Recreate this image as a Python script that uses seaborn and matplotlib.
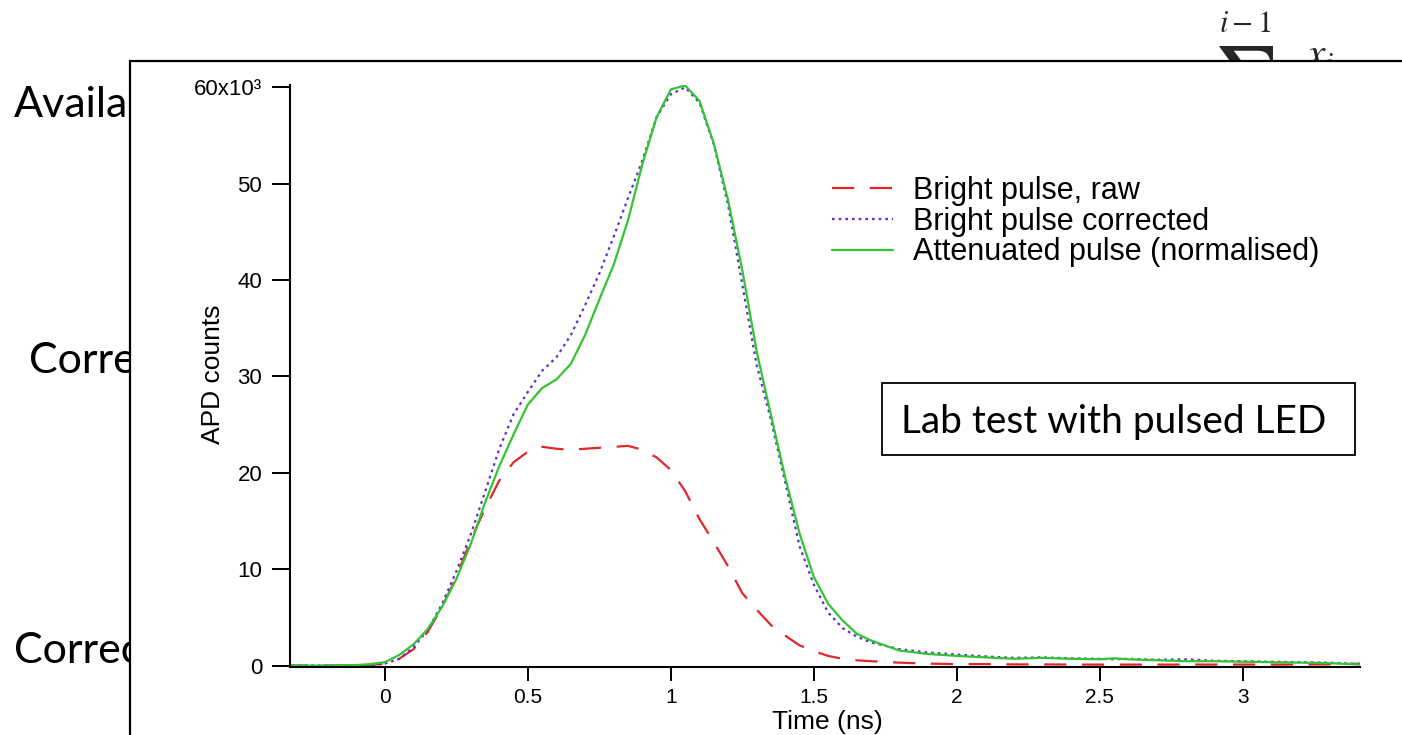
import matplotlib
matplotlib.use("Agg")
import matplotlib.pyplot as plt
import numpy as np
import pandas as pd
import seaborn as sns
from matplotlib.patches import Rectangle

# ---------------- data ----------------
time_ns = [-0.35, -0.2, -0.1, -0.05, 0.0, 0.05, 0.1, 0.15, 0.2, 0.25, 0.3, 0.35,
           0.4, 0.45, 0.5, 0.55, 0.6, 0.65, 0.7, 0.75, 0.8, 0.85, 0.9, 0.95,
           1.0, 1.05, 1.1, 1.15, 1.2, 1.25, 1.3, 1.35, 1.4, 1.45, 1.5, 1.55,
           1.6, 1.65, 1.7, 1.8, 1.9, 2.0, 2.1, 2.2, 2.3, 2.4, 2.5, 2.55, 2.6,
           2.7, 2.8, 2.9, 3.0, 3.1, 3.2, 3.3, 3.42]

bright_raw = [0, 0, 0, 50, 200, 700, 1700, 3500, 6100, 9200, 13000, 16300,
              19200, 21100, 22200, 22700, 22500, 22400, 22500, 22600, 22700, 22800, 22400, 21600,
              20300, 18100, 15200, 12800, 10300, 7500, 5800, 4200, 3100, 2100, 1500, 1000,
              700, 550, 450, 300, 200, 150, 150, 120, 120, 100, 100, 100, 100,
              100, 100, 100, 100, 100, 100, 120, 200]

bright_corrected = [0, 0, 0, 50, 200, 700, 1900, 3700, 6400, 9800, 13600, 18000,
                    22500, 26100, 28400, 30600, 32000, 34300, 37400, 40700, 44500, 48500, 52400, 56900,
                    59300, 60000, 58400, 54100, 47800, 39500, 31200, 25500, 19000, 12400, 8400, 5500,
                    3900, 3000, 2400, 1700, 1350, 1150, 950, 800, 850, 750, 700, 650, 700,
                    600, 650, 500, 450, 400, 350, 300, 150]

attenuated_norm = [0, 0, 50, 150, 350, 1100, 2200, 3800, 6100, 9000, 12600, 16900,
                   20700, 24000, 27100, 28800, 29700, 31300, 34300, 38000, 41600, 46200, 52000, 56900,
                   59800, 60200, 58600, 54200, 48300, 41000, 32600, 26000, 19500, 13700, 9200, 6400,
                   4700, 3300, 2600, 1550, 1200, 1000, 850, 700, 800, 700, 650, 750, 650,
                   550, 450, 450, 400, 350, 300, 250, 100]

series_names = ["Bright pulse, raw", "Bright pulse corrected", "Attenuated pulse (normalised)"]
series_colors = ["#e1262c", "#5e2fcf", "#33c433"]

y_ticks = [0, 10000, 20000, 30000, 40000, 50000, 60000]
y_tick_labels = ["0", "10", "20", "30", "40", "50", "60x10\u00b3"]
x_ticks = [0, 0.5, 1, 1.5, 2, 2.5, 3]
x_tick_labels = ["0", "0.5", "1", "1.5", "2", "2.5", "3"]

# ---------------- build long table ----------------
df = pd.DataFrame({
    "time": time_ns * 3,
    "counts": bright_raw + bright_corrected + attenuated_norm,
    "series": [series_names[0]] * len(time_ns) + [series_names[1]] * len(time_ns)
              + [series_names[2]] * len(time_ns),
})

sns.set_style("ticks")
plt.rcParams["font.family"] = ["Liberation Sans", "DejaVu Sans"]
plt.rcParams["mathtext.fontset"] = "stix"

W, H = 1402, 735
fig = plt.figure(figsize=(W / 100, H / 100), dpi=100)
fig.patch.set_facecolor("white")

def fx(px):
    return px / W

def fy(py):
    return 1 - py / H

# slide text behind the chart frame
for txt, x, y in [("Availa", 14, 117), ("Corre", 29, 373), ("Correc", 14, 663)]:
    fig.text(fx(x), fy(y), txt, family="Lato", fontsize=31, color="black",
             ha="left", va="baseline", zorder=1)
fig.text(fx(1245), fy(32), r"$i-1$", fontsize=22, ha="center", va="baseline", zorder=1)
fig.text(fx(1244), fy(44), r"$\sum$", fontsize=52, ha="center", va="top", zorder=1)
fig.text(fx(1305), fy(67), r"$x_i$", fontsize=30, ha="left", va="baseline", zorder=1)

# chart frame (white panel covering the slide text)
fig.add_artist(Rectangle((fx(130), -0.05), 1.2, fy(61) + 0.05, transform=fig.transFigure,
                         facecolor="white", edgecolor="black", linewidth=1.6, zorder=2))

ax = fig.add_axes([fx(290), fy(667), fx(1360) - fx(290), fy(85) - fy(667)])
ax.set_zorder(5)
ax.patch.set_alpha(0)

sns.lineplot(data=df, x="time", y="counts", hue="series", style="series",
             hue_order=series_names, style_order=series_names,
             palette=dict(zip(series_names, series_colors)),
             dashes={series_names[0]: (10, 7.0), series_names[1]: (1.2, 1.8), series_names[2]: ""},
             linewidth=1.6, estimator=None, ax=ax)

ax.set_xlim(-0.332, 3.41)
ax.set_ylim(-150, 60250)
ax.set_xticks(x_ticks)
ax.set_xticklabels(x_tick_labels)
ax.set_yticks(y_ticks)
ax.set_yticklabels(y_tick_labels)
sns.despine(ax=ax)
for s in ("left", "bottom"):
    ax.spines[s].set_linewidth(1.5)
    ax.spines[s].set_color("black")
ax.tick_params(axis="y", direction="out", length=13, width=1.4, pad=7,
               labelsize=16, colors="black")
ax.tick_params(axis="x", direction="out", length=10, width=1.4, pad=5,
               labelsize=15, colors="black")

ax.set_xlabel("Time (ns)", fontsize=19, color="black")
ax.xaxis.set_label_coords(0.502, -0.0745)
ax.set_ylabel("APD counts", fontsize=19, color="black")
ax.yaxis.set_label_coords(-0.0607, 0.503)

handles, labels = ax.get_legend_handles_labels()
ax.legend(handles, labels, loc="upper left", bbox_to_anchor=(fx(832), fy(176)),
          bbox_transform=fig.transFigure, frameon=False, borderpad=0, borderaxespad=0,
          handlelength=2.0, handletextpad=0.65, labelspacing=0.02, fontsize=22,
          labelcolor="black")

# annotation box
fig.add_artist(Rectangle((fx(882), fy(455)), fx(1355) - fx(882), fy(383) - fy(455),
                         transform=fig.transFigure, facecolor="white", edgecolor="black",
                         linewidth=1.3, zorder=10))
fig.text(fx(1114), fy(433), "Lab test with pulsed LED", family="Lato", fontsize=28,
         ha="center", va="baseline", color="black", zorder=11)

fig.savefig("out.png", dpi=100)
